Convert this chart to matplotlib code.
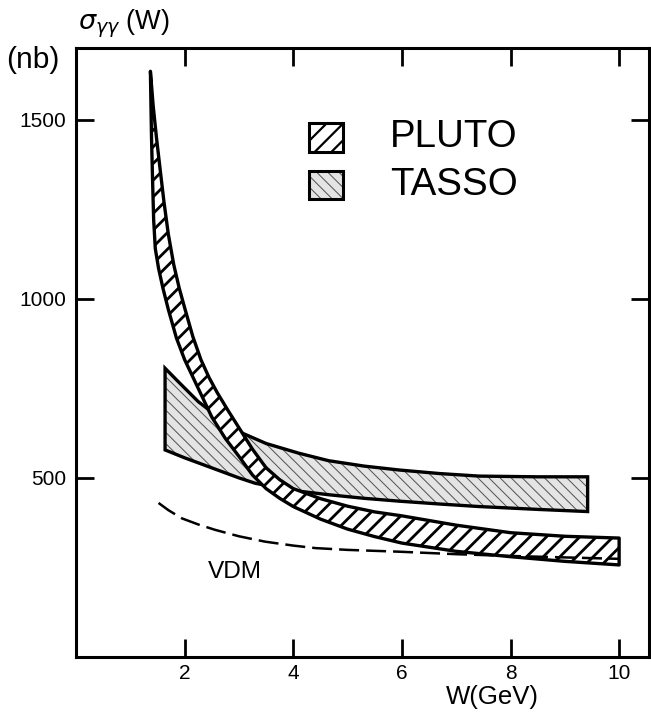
import matplotlib
matplotlib.use("Agg")
import matplotlib.pyplot as plt
from matplotlib import font_manager as fm
from matplotlib.patches import Rectangle

# ---------------- data ----------------
pluto_up_w = [1.37, 1.42, 1.48, 1.55, 1.62, 1.70, 1.80, 1.90, 2.0, 2.15, 2.3, 2.45, 2.6, 2.8,
              3.0, 3.25, 3.5, 3.75, 4.0, 4.5, 5.0, 5.5, 6.0, 7.0, 8.0, 9.0, 10.0]
pluto_up_s = [1635, 1540, 1452, 1360, 1270, 1180, 1095, 1030, 975, 895, 830, 780, 738, 688,
              640, 580, 528, 495, 470, 442, 421, 405, 394, 368, 347, 337, 332]
pluto_lo_w = [1.37, 1.38, 1.39, 1.41, 1.43, 1.46, 1.52, 1.6, 1.7, 1.85, 2.0, 2.25, 2.5, 2.75,
              3.0, 3.25, 3.5, 3.75, 4.0, 4.5, 5.0, 5.5, 6.0, 7.0, 8.0, 9.0, 10.0]
pluto_lo_s = [1635, 1540, 1452, 1330, 1220, 1140, 1085, 1030, 970, 890, 830, 750, 670, 610,
              560, 508, 470, 443, 420, 385, 357, 336, 318, 295, 280, 267, 257]

tasso_up_w = [1.64, 1.9, 2.25, 2.6, 3.0, 3.5, 4.1, 4.65, 5.3, 5.95, 6.7, 7.42, 8.5, 9.42]
tasso_up_s = [806, 766, 713, 672, 629, 596, 569, 548, 533, 522, 512, 505, 503, 503]
tasso_lo_w = [1.64, 2.0, 2.5, 3.0, 3.3, 3.8, 4.1, 4.65, 5.3, 5.95, 6.7, 7.42, 8.5, 9.42]
tasso_lo_s = [578, 556, 528, 500, 485, 470, 463, 453, 443, 435, 427, 420, 412, 406]

vdm_w = [1.52, 1.7, 1.95, 2.25, 2.56, 3.0, 3.48, 4.0, 4.41, 5.0, 5.94, 7.0, 8.0, 9.0, 10.0]
vdm_s = [430, 410, 387, 370, 355, 337, 322, 311, 304, 299, 294, 287, 282, 278, 274]

x_ticks = [2, 4, 6, 8, 10]
x_ticklabels = ["2", "4", "6", "8", "10"]
y_ticks = [500, 1000, 1500]
y_ticklabels = ["500", "1000", "1500"]

legend_labels = ["PLUTO", "TASSO"]

# ---------------- fonts ----------------
names = {f.name for f in fm.fontManager.ttflist}
if "Liberation Sans Narrow" in names:
    FONT = ["Liberation Sans Narrow", "DejaVu Sans"]
    SZ = dict(tick=17, legend=33, vdm=21, xlabel=22, ylabel=20, unit=22)
else:
    FONT = ["Liberation Sans", "DejaVu Sans"]
    SZ = dict(tick=15, legend=27.7, vdm=17.6, xlabel=18.5, ylabel=19.5, unit=21.5)
plt.rcParams["font.family"] = FONT
plt.rcParams["mathtext.fontset"] = "dejavusans"

# ---------------- figure ----------------
fig = plt.figure(figsize=(6.51, 7.26), dpi=100)
ax = fig.add_axes([76 / 651, 1 - 657 / 726, 573 / 651, 609 / 726])
ax.set_xlim(0, 10.55)
ax.set_ylim(0, 1700)

for s in ax.spines.values():
    s.set_linewidth(2.2)

ax.set_xticks(x_ticks)
ax.set_xticklabels(x_ticklabels)
ax.set_yticks(y_ticks)
ax.set_yticklabels(y_ticklabels)
ax.tick_params(direction="in", length=13, width=2, top=True, right=True,
               labelsize=SZ["tick"], colors="black")
ax.tick_params(axis="y", pad=7)
ax.tick_params(axis="x", pad=5)


def hatched(xs, ys, hatch, hcolor, hlw, face, zorder):
    with plt.rc_context({"hatch.linewidth": hlw, "hatch.color": hcolor}):
        p = ax.fill(xs, ys, facecolor=face, edgecolor=hcolor, linewidth=0,
                    hatch=hatch, zorder=zorder)[0]
    if hasattr(p, "set_hatch_linewidth"):
        p.set_hatch_linewidth(hlw)
    return p


TASSO_FACE = "#e4e4e4"
TASSO_HATCH = "#505050"

# TASSO band
t_x = tasso_up_w + tasso_lo_w[::-1]
t_y = tasso_up_s + tasso_lo_s[::-1]
hatched(t_x, t_y, "\\\\\\", TASSO_HATCH, 0.7, TASSO_FACE, 2)
ax.fill(t_x, t_y, facecolor="none", edgecolor="black", linewidth=2.4,
        joinstyle="miter", zorder=3)

# PLUTO band
p_x = pluto_up_w + pluto_lo_w[::-1]
p_y = pluto_up_s + pluto_lo_s[::-1]
hatched(p_x, p_y, "//", "black", 2.0, "white", 4)
ax.fill(p_x, p_y, facecolor="none", edgecolor="black", linewidth=2.4,
        joinstyle="round", zorder=5)

# VDM dashed
ax.plot(vdm_w, vdm_s, color="black", linewidth=1.8, linestyle=(0, (8, 2.8)),
        zorder=6)
ax.text(2.92, 236, "VDM", fontsize=SZ["vdm"], ha="center", va="center")


# legend boxes
def ax_frac_x(px):
    return (px - 76) / 573


def ax_frac_y(py):
    return (657 - py) / 609


with plt.rc_context({"hatch.linewidth": 1.6, "hatch.color": "black"}):
    r1 = Rectangle((ax_frac_x(309), ax_frac_y(152)), 34 / 573, 29 / 609,
                   transform=ax.transAxes, facecolor="white", edgecolor="black",
                   linewidth=2.2, hatch="//", zorder=5)
ax.add_patch(r1)
with plt.rc_context({"hatch.linewidth": 0.7, "hatch.color": TASSO_HATCH}):
    r2f = Rectangle((ax_frac_x(309), ax_frac_y(199)), 34 / 573, 28 / 609,
                    transform=ax.transAxes, facecolor=TASSO_FACE, edgecolor=TASSO_HATCH,
                    linewidth=0, hatch="\\\\\\", zorder=5)
ax.add_patch(r2f)
r2 = Rectangle((ax_frac_x(309), ax_frac_y(199)), 34 / 573, 28 / 609,
               transform=ax.transAxes, facecolor="none", edgecolor="black",
               linewidth=2.2, zorder=6)
ax.add_patch(r2)

ax.text(ax_frac_x(390), ax_frac_y(137), legend_labels[0], transform=ax.transAxes,
        fontsize=SZ["legend"], ha="left", va="center")
ax.text(ax_frac_x(390), ax_frac_y(185), legend_labels[1], transform=ax.transAxes,
        fontsize=SZ["legend"], ha="left", va="center")

# axis titles
fig.text(78 / 651, 1 - 24 / 726, r"$\sigma_{\gamma\gamma}$ (W)", fontsize=SZ["ylabel"],
         ha="left", va="center")
fig.text(6 / 651, 1 - 60 / 726, "(nb)", fontsize=SZ["unit"], ha="left", va="center")
fig.text(492 / 651, 1 - 697 / 726, "W(GeV)", fontsize=SZ["xlabel"], ha="center",
         va="center")

fig.savefig("out.png", dpi=100, facecolor="white")
